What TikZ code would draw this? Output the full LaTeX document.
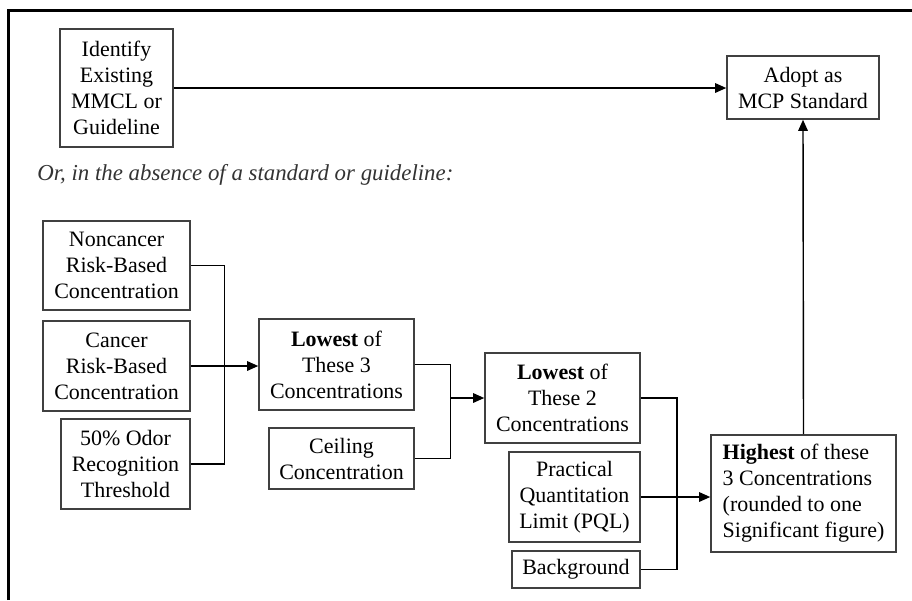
\documentclass[tikz,border=0pt]{standalone}
\usepackage{fontspec}
\setmainfont{Liberation Serif}
\usepackage{tikz}
\usetikzlibrary{arrows.meta, positioning, calc}

\begin{document}
\begin{tikzpicture}[
    box/.style={rectangle, draw=black!75, line width=0.9pt, inner sep=0pt, align=center, font=\fontsize{12.5}{14.8}\selectfont},
    arr/.style={-{Triangle[length=2.2mm, width=1.9mm]}, line width=0.8pt},
    conn/.style={line width=0.8pt},
    note/.style={font=\fontsize{13}{14.8}\selectfont\itshape, text=black!80, anchor=west, inner sep=0pt},
]
\useasboundingbox (0,0) rectangle (18.24,-12);

% ========== frame ==========
\coordinate (fbl) at (0.17,-12);
\coordinate (ftl) at (0.17,-0.21);
\coordinate (ftr) at (18.24,-0.21);
\draw[line width=1.6pt] (fbl) -- (ftl) -- (ftr);

% ========== TOP ROW: existing standard ==========
\node[box, minimum width=2.26cm, minimum height=2.36cm] at (2.33,-1.76) (ident) {Identify\\Existing\\MMCL or\\Guideline};
\node[box, minimum width=3.04cm, minimum height=1.26cm] at (16.06,-1.75) (adopt) {Adopt as\\MCP Standard};
\draw[arr] (ident.east) -- (ident.east -| adopt.west);

\node[note] at (0.74,-3.5) (or) {Or, in the absence of a standard or guideline:};

% ========== COLUMN 1: three risk values ==========
\node[box, minimum width=2.94cm, minimum height=1.78cm] at (2.33,-5.31) (noncancer) {Noncancer\\Risk-Based\\Concentration};
\node[box, minimum width=2.94cm, minimum height=1.80cm] at (2.33,-7.32) (cancer) {Cancer\\Risk-Based\\Concentration};
\node[box, minimum width=2.58cm, minimum height=1.80cm] at (2.51,-9.28) (odor) {50\% Odor\\Recognition\\Threshold};

% ========== COLUMN 2 ==========
\node[box, minimum width=3.10cm, minimum height=1.82cm] at (6.73,-7.29) (low3) {\textbf{Lowest} of\\These 3\\Concentrations};
\node[box, minimum width=2.90cm, minimum height=1.22cm] at (6.83,-9.17) (ceiling) {Ceiling\\Concentration};

% ========== COLUMN 3 ==========
\node[box, minimum width=3.10cm, minimum height=1.80cm] at (11.25,-7.96) (low2) {\textbf{Lowest} of\\These 2\\Concentrations};
\node[box, minimum width=2.62cm, minimum height=1.80cm] at (11.49,-9.94) (pql) {Practical\\Quantitation\\Limit (PQL)};
\node[box, minimum width=2.56cm, minimum height=0.74cm] at (11.52,-11.39) (bg) {Background};

% ========== COLUMN 4 ==========
\node[box, minimum width=3.70cm, minimum height=2.34cm, align=left] at (16.07,-9.87) (high) {\textbf{Highest} of these\\3 Concentrations\\(rounded to one\\Significant figure)};

% ========== CONNECTIONS ==========
\draw[conn] (noncancer.east) -- ++(0.68,0) |- (odor.east);
\draw[arr] (cancer.east) -- (cancer.east -| low3.west);

\coordinate (j2) at (9.0,-7.96);
\draw[conn] (low3.east) -- ++(0.72,0) |- (ceiling.east);
\draw[arr] (j2) -- (low2.west);

\draw[conn] (low2.east) -- ++(0.72,0) |- (bg.east);
\draw[arr] (pql.east) -- (pql.east -| high.west);

\draw[arr] (high.north) -- (adopt.south);

\end{tikzpicture}
\end{document}
